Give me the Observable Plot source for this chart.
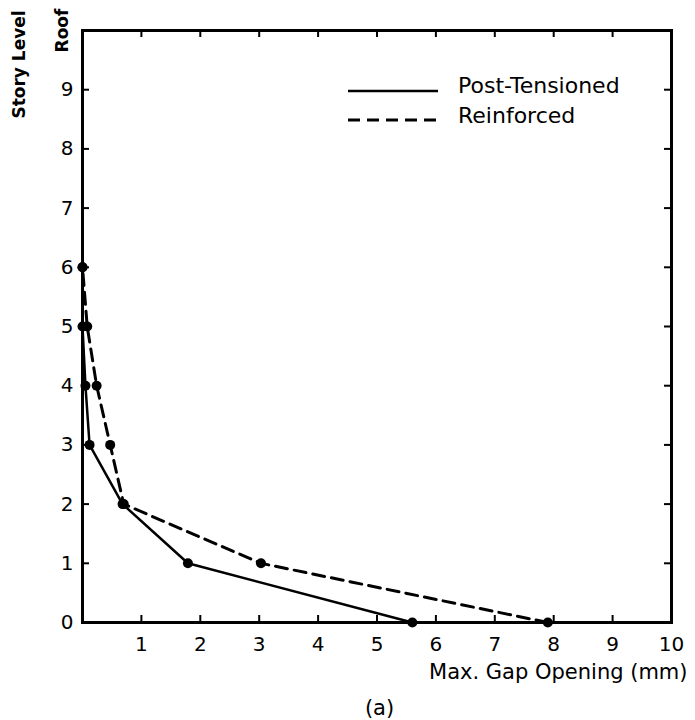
<!DOCTYPE html>
<html>
<head>
<meta charset="utf-8">
<script src="https://cdn.jsdelivr.net/npm/d3@7"></script>
<script src="https://cdn.jsdelivr.net/npm/@observablehq/plot@0.6"></script>
<style>
  html, body { margin: 0; padding: 0; background: #fff; }
  #wrap { position: relative; width: 695px; height: 720px; font-family: "DejaVu Sans", sans-serif; }
  #legend { position: absolute; left: 0; top: 0; pointer-events: none; }
</style>
</head>
<body>
<div id="wrap"></div>
<script>
// ---- data ----
const levels = [0, 1, 2, 3, 4, 5, 6];
const postTensioned = [5.6, 1.79, 0.68, 0.12, 0.05, 0, 0];
const reinforced = [7.9, 3.03, 0.7, 0.47, 0.24, 0.08, 0];
const seriesNames = ["Post-Tensioned", "Reinforced"];
const xTicks = [1, 2, 3, 4, 5, 6, 7, 8, 9, 10];
const yTicks = [0, 1, 2, 3, 4, 5, 6, 7, 8, 9];
const roofLevel = [10];
const roofLabel = "Roof";
const xLabel = "Max. Gap Opening (mm)";
const yLabel = "Story Level";
const caption = "(a)";

// ---- layout ----
const W = 695, H = 720;
const mTop = 30, mLeft = 82, mRight = 24, mBottom = 98;
const plotW = W - mLeft - mRight, plotH = H - mTop - mBottom;
const tickLen = 7;

const pt = levels.map((l, i) => ({x: postTensioned[i], y: l}));
const rf = levels.map((l, i) => ({x: reinforced[i], y: l}));
const innerX = xTicks.filter(d => d < 10);
const innerY = yTicks.filter(d => d > 0);

const chart = Plot.plot({
  width: W, height: H,
  marginTop: mTop, marginLeft: mLeft, marginRight: mRight, marginBottom: mBottom,
  style: {fontFamily: "DejaVu Sans, sans-serif", fontSize: "20px", color: "black", background: "white"},
  x: {domain: [0, 10], axis: null},
  y: {domain: [0, 10], axis: null},
  marks: [
    Plot.line(rf, {x: "x", y: "y", stroke: "black", strokeWidth: 3, strokeDasharray: "12,7"}),
    Plot.line(pt, {x: "x", y: "y", stroke: "black", strokeWidth: 2.5}),
    Plot.dot(rf, {x: "x", y: "y", r: 5, fill: "black", stroke: "none"}),
    Plot.dot(pt, {x: "x", y: "y", r: 5, fill: "black", stroke: "none"}),
    // inward ticks on all four sides
    Plot.tickX(innerX, {x: d => d, insetTop: plotH - tickLen, stroke: "black", strokeWidth: 2}),
    Plot.tickX(innerX, {x: d => d, insetBottom: plotH - tickLen, stroke: "black", strokeWidth: 2}),
    Plot.tickY(innerY, {y: d => d, insetRight: plotW - tickLen, stroke: "black", strokeWidth: 2}),
    Plot.tickY(innerY, {y: d => d, insetLeft: plotW - tickLen, stroke: "black", strokeWidth: 2}),
    Plot.frame({stroke: "black", strokeWidth: 3}),
    Plot.axisX(xTicks, {tickSize: 0, tickPadding: 14, fontSize: 20, label: null, tickFormat: "d"}),
    Plot.axisY(yTicks, {tickSize: 0, tickPadding: 9, fontSize: 20, label: null, tickFormat: "d"}),
    Plot.text(roofLevel, {y: d => d, text: () => roofLabel, frameAnchor: "left", textAnchor: "middle", lineAnchor: "middle", dx: -20, rotate: -90, fontWeight: "bold", fontSize: 17}),
    Plot.text([yLabel], {text: d => d, frameAnchor: "top-left", textAnchor: "middle", lineAnchor: "middle", dx: -63, dy: 34, rotate: -90, fontWeight: "bold", fontSize: 17}),
    Plot.text([xLabel], {text: d => d, frameAnchor: "bottom-right", textAnchor: "end", lineAnchor: "middle", dx: 16, dy: 50, fontSize: 21}),
    Plot.text([caption], {text: d => d, frameAnchor: "bottom", textAnchor: "middle", lineAnchor: "middle", dx: 2.5, dy: 86, fontSize: 21})
  ]
});

const wrap = document.getElementById("wrap");
wrap.appendChild(chart);

// ---- legend overlay ----
const ns = "http://www.w3.org/2000/svg";
const leg = document.createElementNS(ns, "svg");
leg.setAttribute("id", "legend");
leg.setAttribute("width", W);
leg.setAttribute("height", 150);
const legendRows = [
  {name: seriesNames[0], dash: null, sw: 2.5, ly: 91, ty: 87},
  {name: seriesNames[1], dash: "12,7", sw: 3, ly: 120, ty: 117}
];
legendRows.forEach(r => {
  const ln = document.createElementNS(ns, "line");
  ln.setAttribute("x1", 348); ln.setAttribute("x2", 438);
  ln.setAttribute("y1", r.ly); ln.setAttribute("y2", r.ly);
  ln.setAttribute("stroke", "black");
  ln.setAttribute("stroke-width", r.sw);
  if (r.dash) ln.setAttribute("stroke-dasharray", r.dash);
  leg.appendChild(ln);
  const tx = document.createElementNS(ns, "text");
  tx.setAttribute("x", 458); tx.setAttribute("y", r.ty);
  tx.setAttribute("dominant-baseline", "middle");
  tx.setAttribute("font-family", "DejaVu Sans, sans-serif");
  tx.setAttribute("font-size", 22);
  tx.setAttribute("fill", "black");
  tx.textContent = r.name;
  leg.appendChild(tx);
});
wrap.appendChild(leg);
</script>
</body>
</html>
